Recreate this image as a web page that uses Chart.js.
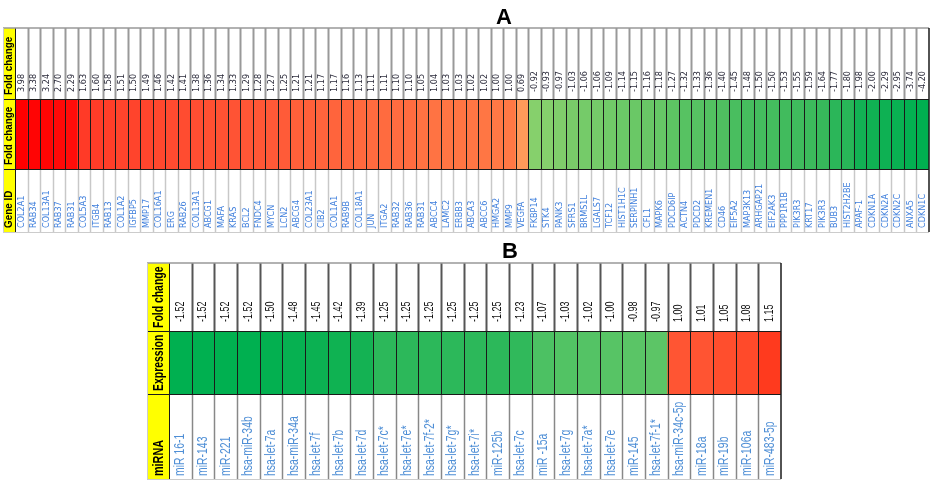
<!DOCTYPE html>
<html><head><meta charset="utf-8">
<script src="https://cdn.jsdelivr.net/npm/chart.js@4"></script>
<style>
body{margin:0;background:#fff;width:933px;height:486px;position:relative;overflow:hidden}
.box{position:absolute;left:0;width:933px}
</style></head><body>
<div class="box" style="top:0;height:240px"><canvas id="chartA"></canvas></div>
<div class="box" style="top:240px;height:246px"><canvas id="chartB"></canvas></div>
<script>
// Panel A: genes and fold changes
const genesA = ['COL2A1','RAB34','COL13A1','RAB37','RAB31','COL5A3','ITGB4','RAB13','COL1A2','IGFBP5',
  'MMP17','COL16A1','ERG','RAB26','COL13A1','ABCG1','MAFA','KRAS','BCL2','FNDC4','MYCN','LCN2','ABCG4',
  'COL23A1','CIB2','COL1A1','RAB9B','COL18A1','JUN','ITGA2','RAB32','RAB36','RAB31','ABCC4','LAMC2',
  'ERBB3','ABCA3','ABCC6','HMGA2','MMP9','VEGFA','FKBP14','STK4','PANK3','SFRS1','BRMS1L','LGALS7',
  'TCF12','HIST1H1C','SERPINH1','CFL1','MAPK6','PDCD6IP','ACTN4','PDCD2','KREMEN1','CD46','EIF5A2',
  'MAP3K13','ARHGAP21','EIF2AK3','PPP1R1B','PIK3R3','KRT17','PIK3R3','BUB3','HIST2H2BE','APAF-1',
  'CDKN1A','CDKN2A','CDKN2C','ANXA5','CDKN1C'];
const foldA = [3.98,3.38,3.24,2.70,2.29,1.63,1.60,1.58,1.51,1.50,1.49,1.46,1.42,1.41,1.38,1.36,1.34,1.33,
  1.29,1.28,1.27,1.25,1.21,1.21,1.17,1.17,1.16,1.13,1.11,1.11,1.10,1.10,1.05,1.04,1.03,1.03,1.02,1.02,
  1.00,1.00,0.69,-0.92,-0.93,-0.97,-1.03,-1.06,-1.06,-1.09,-1.14,-1.15,-1.16,-1.18,-1.27,-1.32,-1.33,
  -1.36,-1.40,-1.45,-1.48,-1.50,-1.50,-1.53,-1.55,-1.59,-1.64,-1.77,-1.80,-1.98,-2.00,-2.29,-2.95,-3.74,-4.20];
const headersA = ['Fold change','Fold change','Gene ID'];

// Panel B: miRNAs and fold changes
const mirnasB = ['miR 16-1','miR-143','miR-221','hsa-miR-34b','hsa-let-7a','hsa-miR-34a','hsa-let-7f',
  'hsa-let-7b','hsa-let-7d','hsa-let-7c*','hsa-let-7e*','hsa-let-7f-2*','hsa-let-7g*','hsa-let-7i*',
  'miR-125b','hsa-let-7c','miR -15a','hsa-let-7g','hsa-let-7a*','hsa-let-7e','miR-145','hsa-let-7f-1*',
  'hsa-miR-34c-5p','miR-18a','miR-19b','miR-106a','miR-483-5p'];
const foldB = [-1.52,-1.52,-1.52,-1.52,-1.50,-1.48,-1.45,-1.42,-1.39,-1.25,-1.25,-1.25,-1.25,-1.25,
  -1.25,-1.23,-1.07,-1.03,-1.02,-1.00,-0.98,-0.97,1.00,1.01,1.05,1.08,1.15];
const headersB = ['Fold change','Expression','miRNA'];

// colour stops, value -> rgb
const stopsA = [[-4.2,[0,176,80]],[-2.0,[16,177,83]],[-1.8,[40,181,88]],[-1.5,[68,188,94]],
  [-1.2,[100,198,101]],[-0.92,[134,208,108]],[0.69,[255,154,90]],[1.0,[255,120,69]],
  [1.3,[255,85,53]],[1.6,[255,60,40]],[2.3,[255,12,10]],[4.0,[255,0,0]]];
const stopsB = [[-1.52,[0,176,80]],[-1.39,[20,178,83]],[-1.25,[44,184,90]],[-1.07,[76,193,99]],
  [-0.97,[92,197,102]],[1.0,[255,85,51]],[1.08,[255,74,42]],[1.15,[255,58,30]]];

function colorFor(stops, v) {
  if (v <= stops[0][0]) return 'rgb(' + stops[0][1] + ')';
  for (let i = 1; i < stops.length; i++) {
    if (v <= stops[i][0]) {
      const [v0, c0] = stops[i - 1], [v1, c1] = stops[i];
      const t = (v - v0) / (v1 - v0);
      return 'rgb(' + c0.map((c, k) => Math.round(c + (c1[k] - c) * t)).join(',') + ')';
    }
  }
  return 'rgb(' + stops[stops.length - 1][1] + ')';
}

function tablePlugin(o) {
  return {
    id: 'table',
    afterDatasetsDraw(chart) {
      const ctx = chart.ctx, x = chart.scales.x, a = chart.chartArea;
      const n = o.labels.length;
      const w = x.getPixelForValue(1) - x.getPixelForValue(0);
      const edge = i => x.getPixelForValue(i) - w / 2;
      ctx.save();
      // separators in the text rows
      for (let i = 1; i < n; i++) {
        const px = Math.round(edge(i)) + 0.5;
        ctx.lineWidth = o.topSepW; ctx.strokeStyle = o.topSep;
        ctx.beginPath(); ctx.moveTo(px, o.top); ctx.lineTo(px, a.top); ctx.stroke();
        ctx.lineWidth = o.botSepW; ctx.strokeStyle = o.botSep;
        ctx.beginPath(); ctx.moveTo(px, a.bottom); ctx.lineTo(px, o.bottom); ctx.stroke();
        ctx.lineWidth = 1; ctx.strokeStyle = '#1a1a1a';
        ctx.beginPath(); ctx.moveTo(px, a.top); ctx.lineTo(px, a.bottom); ctx.stroke();
      }
      // header column
      ctx.fillStyle = '#ffff00';
      ctx.fillRect(o.hl, o.top, a.left - o.hl, o.bottom - o.top);
      ctx.strokeStyle = '#1a1a1a'; ctx.lineWidth = 1;
      [a.top, a.bottom].forEach(py => {
        ctx.beginPath(); ctx.moveTo(o.hl, Math.round(py) + 0.5); ctx.lineTo(a.right, Math.round(py) + 0.5); ctx.stroke();
      });
      ctx.beginPath(); ctx.moveTo(Math.round(a.left) + 0.5, o.top); ctx.lineTo(Math.round(a.left) + 0.5, o.bottom); ctx.stroke();
      // outer frame
      ctx.strokeStyle = '#999'; ctx.lineWidth = 1.5;
      ctx.beginPath(); ctx.moveTo(o.hl, o.top); ctx.lineTo(a.right, o.top); ctx.stroke();
      ctx.strokeStyle = '#ccc'; ctx.lineWidth = 1;
      ctx.beginPath(); ctx.moveTo(o.hl, o.bottom + 0.5); ctx.lineTo(a.right, o.bottom + 0.5); ctx.stroke();
      ctx.beginPath(); ctx.moveTo(o.hl + 0.5, o.top); ctx.lineTo(o.hl + 0.5, o.bottom); ctx.stroke();
      ctx.strokeStyle = '#1a1a1a'; ctx.lineWidth = 1.5;
      ctx.beginPath(); ctx.moveTo(a.right, o.top); ctx.lineTo(a.right, o.bottom); ctx.stroke();

      // vertical text, reading upwards, optionally condensed along its length
      const vtext = (txt, px, py) => {
        ctx.save(); ctx.translate(px, py); ctx.rotate(-Math.PI / 2); ctx.scale(o.cond, 1);
        ctx.fillText(txt, 0, 0); ctx.restore();
      };
      ctx.textAlign = 'left'; ctx.textBaseline = 'middle';
      // header texts
      ctx.fillStyle = '#000';
      const hx = (o.hl + a.left) / 2 + o.hdx;
      ctx.font = o.headFont;
      vtext(o.headers[0], hx, a.top - o.headPad);
      vtext(o.headers[1], hx, a.bottom - o.headPad);
      ctx.font = o.headFont3;
      vtext(o.headers[2], hx, o.bottom - o.headPad);
      // values and labels
      for (let i = 0; i < n; i++) {
        const cx = x.getPixelForValue(i);
        ctx.font = o.valFont; ctx.fillStyle = o.valColor;
        vtext(o.values[i].toFixed(2), cx, a.top - o.valPad);
        ctx.font = o.labFont; ctx.fillStyle = o.labColor;
        vtext(o.labels[i], cx, o.bottom - o.labPad);
      }
      // panel letter
      ctx.fillStyle = '#000'; ctx.font = 'bold 22px "Liberation Sans"';
      ctx.textAlign = 'center'; ctx.textBaseline = 'alphabetic';
      ctx.fillText(o.title, o.titleX, o.titleY);
      ctx.restore();
    }
  };
}

function makeTable(id, o) {
  return new Chart(document.getElementById(id), {
    type: 'bar',
    data: {
      labels: o.labels,
      datasets: [{
        data: o.values.map(() => [0, 1]),
        backgroundColor: o.values.map(v => colorFor(o.stops, v)),
        borderWidth: 0,
        barPercentage: 1,
        categoryPercentage: 1
      }]
    },
    options: {
      responsive: true,
      maintainAspectRatio: false,
      animation: false,
      layout: { padding: o.padding },
      plugins: { legend: { display: false }, tooltip: { enabled: false } },
      scales: {
        x: { display: false },
        y: { display: false, min: 0, max: 1 }
      }
    },
    plugins: [tablePlugin(o)]
  });
}

makeTable('chartA', {
  labels: genesA, values: foldA, headers: headersA, stops: stopsA,
  padding: { left: 15, right: 4, top: 99, bottom: 71 },
  top: 28, bottom: 232, hl: 3, hdx: 0, cond: 0.9,
  topSep: '#999', topSepW: 2, botSep: '#c8c8c8', botSepW: 1.5,
  headFont: 'bold 11px "Liberation Sans"', headFont3: 'bold 11px "Liberation Sans"', headPad: 4,
  valFont: '9px "DejaVu Sans"', valColor: '#2a2a3a', valPad: 7,
  labFont: '9px "DejaVu Sans"', labColor: '#3f7fdc', labPad: 4,
  title: 'A', titleX: 504, titleY: 24
});

makeTable('chartB', {
  labels: mirnasB, values: foldB, headers: headersB, stops: stopsB,
  padding: { left: 169, right: 152, top: 91, bottom: 92 },
  top: 23, bottom: 239, hl: 147, hdx: 1, cond: 0.72,
  topSep: '#555', topSepW: 2, botSep: '#888', botSepW: 1.5,
  headFont: 'bold 14.5px "Liberation Sans"', headFont3: 'bold 15px "Liberation Sans"', headPad: 3,
  valFont: '12.5px "Liberation Sans"', valColor: '#111', valPad: 9,
  labFont: '14.5px "Liberation Sans"', labColor: '#4f8fd6', labPad: 3,
  title: 'B', titleX: 510, titleY: 18
});
</script>
</body></html>
